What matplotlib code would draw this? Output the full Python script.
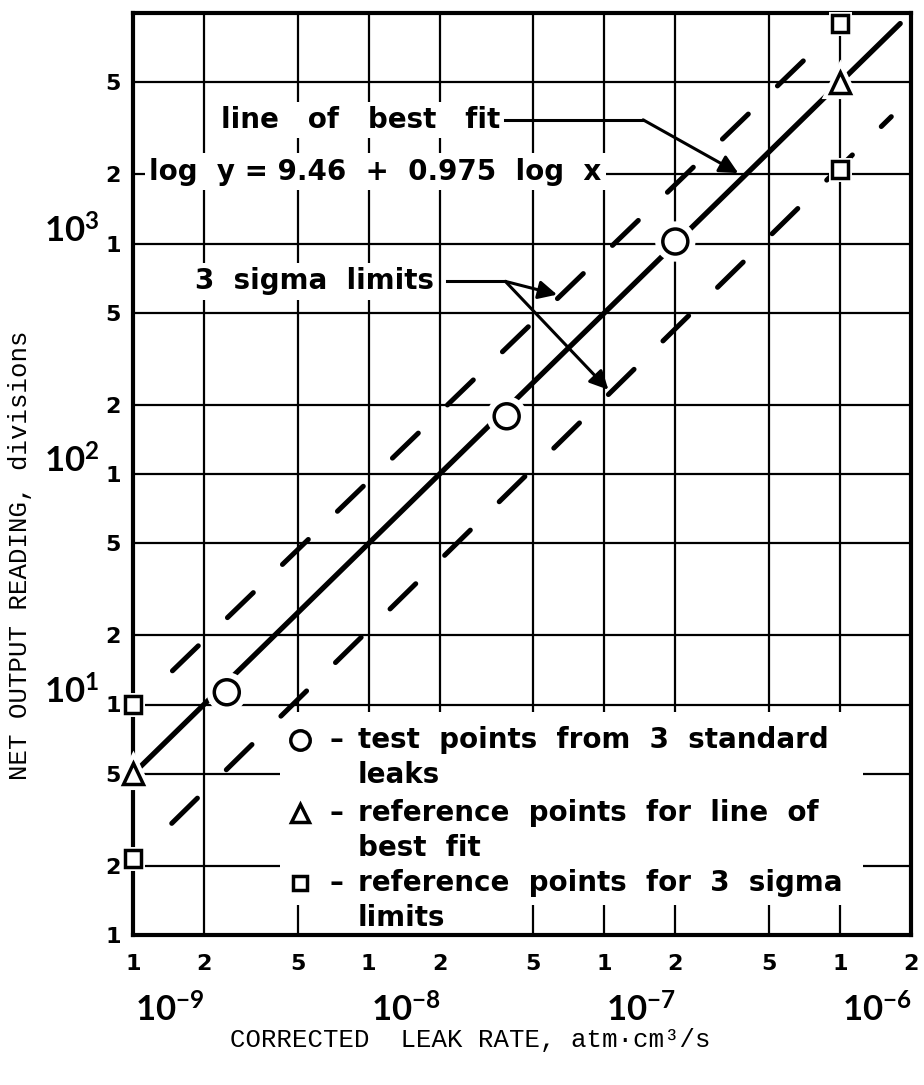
import matplotlib.pyplot as plt
import matplotlib.patheffects as pe
from matplotlib.patches import Rectangle
from matplotlib.ticker import NullLocator

plt.rcParams['mathtext.fontset'] = 'custom'
plt.rcParams['mathtext.rm'] = 'Lato:bold'
plt.rcParams['mathtext.bf'] = 'Lato:bold'

# values
test_x = [2.5e-9, 3.85e-8, 2.0e-7]
test_y = [11.3, 178, 1020]
fit_ref_x = [1e-9, 1e-6]
fit_ref_y = [5, 5000]
sig_ref_x = [1e-9, 1e-9, 1e-6, 1e-6]
sig_ref_y = [10, 2.15, 9000, 2100]

fit_x = [1e-9, 1.8e-6]
fit_y = [5, 9000]
upper_x = [1.47e-9, 7.1e-7]
upper_y = [14.0, 6300]
lower_x = [1.46e-9, 1.65e-6]
lower_y = [3.05, 3550]

x_ticks = [1e-9, 2e-9, 5e-9, 1e-8, 2e-8, 5e-8, 1e-7, 2e-7, 5e-7, 1e-6, 2e-6]
x_ticklabels = ['1', '2', '5', '1', '2', '5', '1', '2', '5', '1', '2']
x_decades = [-9, -8, -7, -6]
y_ticks = [1, 2, 5, 10, 20, 50, 100, 200, 500, 1000, 2000, 5000]
y_ticklabels = ['1', '2', '5'] * 4
y_decades = [1, 2, 3]

legend_text = [('o', 'test  points  from  3  standard', 'leaks'),
               ('^', 'reference  points  for  line  of', 'best  fit'),
               ('s', 'reference  points  for  3  sigma', 'limits')]

FONT = 'DejaVu Sans'
MONO = 'Liberation Mono'

fig = plt.figure(figsize=(9.24, 10.85), dpi=100)
ax = fig.add_axes([133 / 924, 150 / 1085, 778 / 924, 922 / 1085])
ax.set_xscale('log')
ax.set_yscale('log')
ax.set_xlim(1e-9, 2e-6)
ax.set_ylim(1, 1e4)

ax.set_xticks(x_ticks, x_ticklabels)
ax.set_yticks(y_ticks, y_ticklabels)
ax.xaxis.set_minor_locator(NullLocator())
ax.yaxis.set_minor_locator(NullLocator())
ax.tick_params(length=0, labelsize=16)
ax.tick_params(axis='x', pad=14)
ax.tick_params(axis='y', pad=9)
for lab in ax.get_xticklabels() + ax.get_yticklabels():
    lab.set_fontfamily(FONT)
    lab.set_fontweight('bold')

ax.set_axisbelow(True)
ax.grid(True, color='black', lw=1.6)
for sp in ax.spines.values():
    sp.set_linewidth(3)

# decade labels
for d in x_decades:
    ax.annotate(r'$\mathbf{10^{%d}}$' % d, xy=(10.0 ** d, 0), xycoords=('data', 'axes fraction'),
                xytext=(2, -58), textcoords='offset pixels', ha='left', va='top',
                fontsize=25)
for d in y_decades:
    ax.annotate(r'$\mathbf{10^{%d}}$' % d, xy=(0, 10.0 ** d), xycoords=('axes fraction', 'data'),
                xytext=(-34, 12), textcoords='offset pixels', ha='right', va='center',
                fontsize=25)

# lines
ax.plot(fit_x, fit_y, color='black', lw=3.8, solid_capstyle='round', zorder=2)
ax.plot(upper_x, upper_y, color='black', lw=3.6, dashes=(7.2, 8.1), dash_capstyle='round', zorder=2)
ax.plot(lower_x, lower_y, color='black', lw=3.6, dashes=(7.2, 8.1), dash_capstyle='round', zorder=2)

# points (white halo breaks the lines round each marker)
mk = dict(color='black', markerfacecolor='white', markeredgewidth=2.5, linestyle='none',
          zorder=4, clip_on=False)
ax.plot(test_x, test_y, marker='o', markersize=18,
        path_effects=[pe.Stroke(linewidth=11, foreground='white'), pe.Normal()], **mk)
ax.plot(fit_ref_x, fit_ref_y, marker='^', markersize=15,
        path_effects=[pe.Stroke(linewidth=8, foreground='white'), pe.Normal()], **mk)
ax.plot(sig_ref_x, sig_ref_y, marker='s', markersize=12,
        path_effects=[pe.Stroke(linewidth=5, foreground='white'), pe.Normal()], **mk)

# annotations
box = dict(facecolor='white', edgecolor='none', pad=3)
ax.text(9.2e-9, 3440, 'line   of   best   fit', fontsize=20, family=FONT, fontweight='bold',
        ha='center', va='center', bbox=box, zorder=1.5)
ax.text(1.07e-8, 2050, 'log  y = 9.46  +  0.975  log  x', fontsize=20, family=FONT,
        fontweight='bold', ha='center', va='center', bbox=box, zorder=1.5)
ax.text(5.9e-9, 685, '3  sigma  limits', fontsize=20, family=FONT, fontweight='bold',
        ha='center', va='center', bbox=box, zorder=1.5)

arr = dict(arrowstyle='-|>', color='black', lw=2.2, mutation_scale=28, shrinkA=0, shrinkB=0)
ax.plot([3.78e-8, 1.46e-7], [3440, 3440], color='black', lw=2.2, zorder=3)
ax.annotate('', xy=(3.7e-7, 2020), xytext=(1.46e-7, 3440), arrowprops=arr, zorder=3)
ax.plot([2.15e-8, 3.8e-8], [685, 685], color='black', lw=2.2, zorder=3)
ax.annotate('', xy=(6.3e-8, 600), xytext=(3.8e-8, 685), arrowprops=arr, zorder=3)
ax.annotate('', xy=(1.04e-7, 232), xytext=(3.8e-8, 685), arrowprops=arr, zorder=3)

# legend block
ax.add_patch(Rectangle((0.189, 0.033), 0.749, 0.209, transform=ax.transAxes,
                       facecolor='white', edgecolor='none', zorder=1))
rows = [0.2115, 0.132, 0.0564]
for (m, line1, line2), yy in zip(legend_text, rows):
    ax.plot([0.215], [yy], marker=m, markersize={'o': 14, '^': 13, 's': 10}[m],
            transform=ax.transAxes, **mk)
    ax.text(0.262, yy, '–', transform=ax.transAxes, fontsize=20, family=FONT,
            fontweight='bold', ha='center', va='center')
    ax.text(0.289, yy, line1, transform=ax.transAxes, fontsize=20, family=FONT,
            fontweight='bold', ha='left', va='center', bbox=box, zorder=1.5)
    ax.text(0.289, yy - 0.038, line2, transform=ax.transAxes, fontsize=20, family=FONT,
            fontweight='bold', ha='left', va='center', bbox=box, zorder=1.5)

fig.text(470 / 924, 1 - 1040 / 1085, 'CORRECTED  LEAK RATE, atm·cm³/s', family=MONO,
         fontsize=18.5, ha='center', va='center')
fig.text(20 / 924, 1 - 555 / 1085, 'NET OUTPUT READING, divisions', family=MONO,
         fontsize=18.5, ha='center', va='center', rotation=90)

fig.savefig('out.png', dpi=100, facecolor='white')
